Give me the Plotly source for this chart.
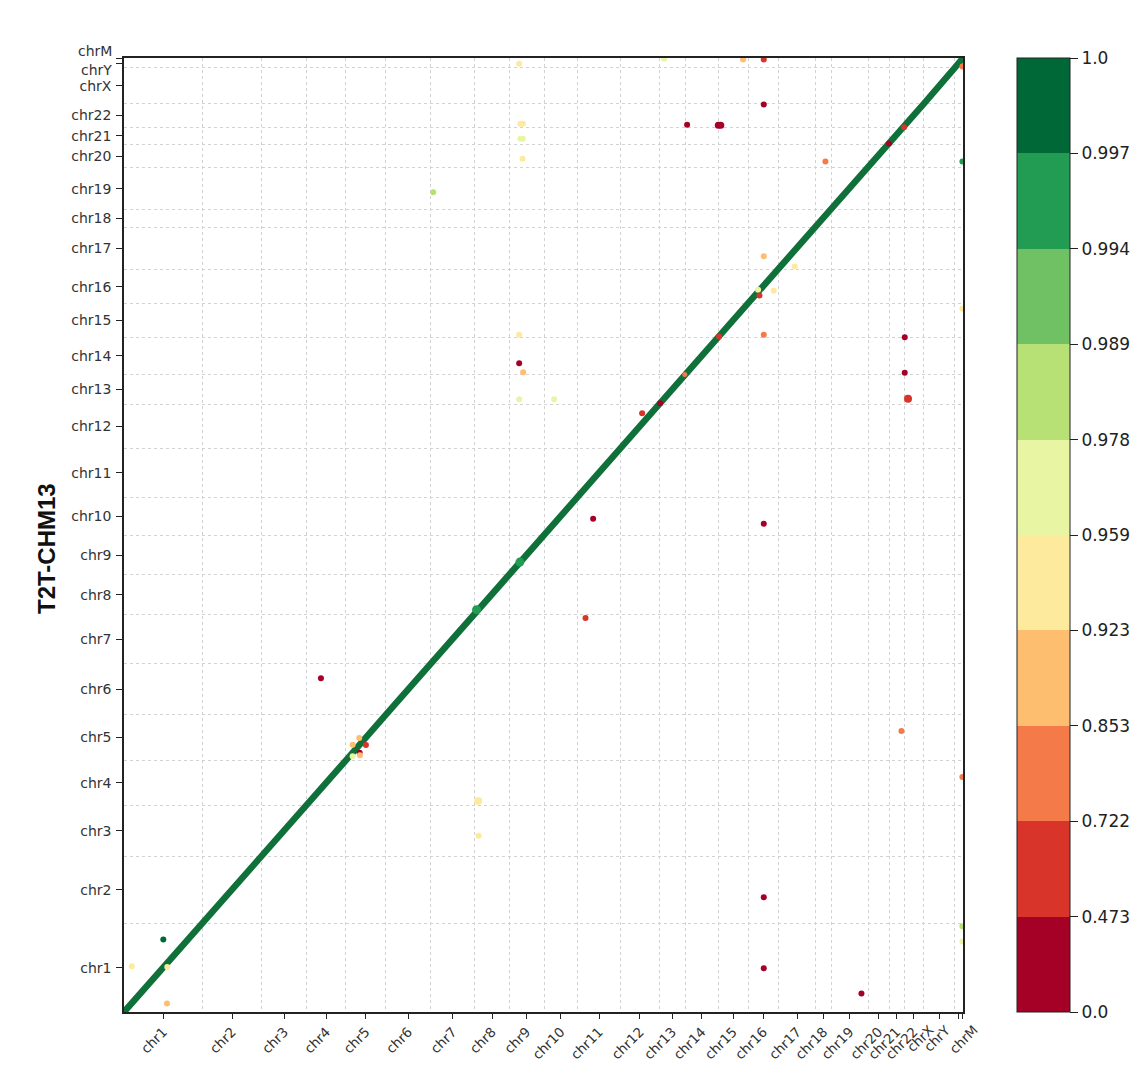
import numpy as np
import plotly.graph_objects as go

# ---------------- data ----------------
chroms = ["chr1", "chr2", "chr3", "chr4", "chr5", "chr6", "chr7", "chr8", "chr9",
          "chr10", "chr11", "chr12", "chr13", "chr14", "chr15", "chr16", "chr17",
          "chr18", "chr19", "chr20", "chr21", "chr22", "chrX", "chrY", "chrM"]

# chromosome extents along each axis (relative units)
x_sizes = [78.7, 59.0, 45.3, 39.0, 40.0, 45.0, 44.0, 34.3, 35.0, 33.4, 43.3, 38.3, 26.4,
           32.6, 30.0, 30.7, 37.0, 15.7, 36.6, 21.0, 15.0, 19.7, 31.0, 8.0, 0.3]
y_sizes = [88.4, 67.3, 51.0, 45.0, 45.7, 51.0, 49.0, 40.0, 39.3, 37.7, 49.6, 43.4, 30.3,
           37.3, 33.4, 34.3, 42.3, 17.4, 42.0, 23.3, 17.3, 23.4, 36.0, 9.3, 0.5]

# off-diagonal / highlighted hits: position on reference (x), on T2T-CHM13 (y), identity
hit_x = [39.3, 7.7, 43.3, 43.0, 197.0, 228.7, 235.3, 242.0, 235.7, 236.0, 228.7, 354.3,
         354.7, 461.7, 777.7, 838.7, 640.0, 640.0, 737.7, 838.7, 838.7, 395.3, 540.3,
         619.3, 640.0, 640.0, 396.5, 399.0, 396.5, 399.0, 398.7, 563.3, 594.5, 597.0,
         701.7, 838.7, 780.3, 765.3, 640.0, 671.0, 634.3, 635.7, 650.0, 838.7, 395.3,
         640.0, 595.3, 781.0, 395.3, 399.3, 781.0, 395.3, 430.3, 784.3, 561.0, 518.3,
         536.3, 469.3, 640.0, 838.7, 309.3, 352.7, 396.0]
hit_y = [72.4, 45.7, 45.0, 8.4, 333.7, 267.4, 274.0, 267.0, 259.4, 256.7, 255.7, 211.0,
         176.4, 394.0, 281.0, 235.0, 114.7, 43.7, 18.4, 85.7, 70.4, 948.4, 953.4,
         952.7, 952.7, 907.7, 888.4, 888.4, 873.4, 873.4, 853.4, 887.4, 887.0, 887.0,
         850.7, 850.7, 885.0, 868.7, 756.0, 745.7, 722.4, 716.7, 721.4, 703.4, 677.4,
         677.4, 675.7, 675.0, 649.0, 640.0, 639.4, 613.0, 613.0, 613.4, 637.7, 599.0,
         609.0, 493.4, 488.4, 945.7, 820.0, 402.4, 450.0]
hit_identity = [0.998, 0.94, 0.94, 0.88, 0.30, 0.89, 0.89, 0.60, 0.30, 0.89, 0.97, 0.94,
                0.94, 0.60, 0.80, 0.80, 0.30, 0.30, 0.30, 0.985, 0.97, 0.94, 0.97,
                0.89, 0.60, 0.30, 0.94, 0.94, 0.97, 0.97, 0.94, 0.30, 0.30, 0.30,
                0.80, 0.996, 0.60, 0.30, 0.89, 0.94, 0.97, 0.60, 0.94, 0.94, 0.94,
                0.80, 0.60, 0.30, 0.30, 0.89, 0.30, 0.97, 0.965, 0.60, 0.80, 0.60,
                0.30, 0.30, 0.30, 0.80, 0.985, 0.996, 0.996]
hit_size = [6, 6, 6, 6, 6, 6, 6, 6, 6, 6, 6, 8,
            6, 6, 6, 6, 6, 6, 6, 6, 6, 6, 6,
            6, 6, 6, 6, 6, 6, 6, 6, 6, 7, 7,
            6, 6, 6, 6, 6, 6, 6, 6, 6, 6, 6,
            6, 6, 6, 6, 6, 6, 6, 6, 8, 5, 6,
            6, 6, 6, 6, 6, 9, 9]

# colour classes
bounds = [0.0, 0.473, 0.722, 0.853, 0.923, 0.959, 0.978, 0.989, 0.994, 0.997, 1.0]
bound_labels = ["0.0", "0.473", "0.722", "0.853", "0.923", "0.959", "0.978", "0.989",
                "0.994", "0.997", "1.0"]
class_colors = ["#a50026", "#d93429", "#f57a49", "#fdbe6f", "#feea9d",
                "#e8f6a3", "#b7e075", "#70c064", "#229c52", "#006837"]

x_title = "Hg38"
y_title = "T2T-CHM13"

# ---------------- derived ----------------
x_edges = np.concatenate([[0], np.cumsum(x_sizes)])
y_edges = np.concatenate([[0], np.cumsum(y_sizes)])
x_mid = (x_edges[:-1] + x_edges[1:]) / 2
y_mid = (y_edges[:-1] + y_edges[1:]) / 2
X_TOT, Y_TOT = x_edges[-1], y_edges[-1]

nb = len(class_colors)
colorscale = []
for i, c in enumerate(class_colors):
    colorscale.append([i / nb, c])
    colorscale.append([(i + 1) / nb, c])

cls = np.clip(np.digitize(hit_identity, bounds[1:-1]), 0, nb - 1) + 0.5

fig = go.Figure()

# collinear diagonal (chromosome-to-chromosome correspondence)
fig.add_trace(go.Scatter(x=x_edges, y=y_edges, mode="lines",
                         line=dict(color="#10703a", width=6.5),
                         hoverinfo="skip", showlegend=False))

fig.add_trace(go.Scatter(
    x=hit_x, y=hit_y, mode="markers",
    marker=dict(size=hit_size, color=cls, colorscale=colorscale, cmin=0, cmax=nb,
                opacity=1, line=dict(width=0),
                colorbar=dict(
                    tickmode="array", tickvals=list(range(nb + 1)), ticktext=bound_labels,
                    thickness=53, len=1.0, lenmode="fraction", y=0.5, yanchor="middle",
                    x=1.064, xanchor="left", outlinewidth=1, outlinecolor="#222",
                    ticks="outside", ticklen=8, tickcolor="#222",
                    tickfont=dict(family="DejaVu Sans", size=17, color="#222"),
                    xpad=0, ypad=0)),
    showlegend=False))

crowded = ("chrX", "chrY", "chrM")
x_ticktext = [c if c not in crowded else "" for c in chroms]
y_ticktext = [c if c not in ("chrY", "chrM") else "" for c in chroms]

fig.update_xaxes(range=[0, X_TOT], tickmode="array", tickvals=x_mid, ticktext=x_ticktext,
                 tickangle=-45, ticks="outside", ticklen=5, tickcolor="#222",
                 tickfont=dict(family="DejaVu Sans", size=13.5, color="#333"),
                 showgrid=False, zeroline=False, showline=True, linecolor="#222",
                 linewidth=1.5, mirror=True,
                 minor=dict(tickmode="array", tickvals=list(x_edges), showgrid=True,
                            gridcolor="#d2d2d2", griddash="dot", gridwidth=1, ticklen=0))
fig.update_yaxes(range=[0, Y_TOT], tickmode="array", tickvals=y_mid, ticktext=y_ticktext,
                 ticks="outside", ticklen=6, tickcolor="#222",
                 tickfont=dict(family="DejaVu Sans", size=14, color="#333"),
                 showgrid=False, zeroline=False, showline=True, linecolor="#222",
                 linewidth=1.5, mirror=True, ticklabelstandoff=2,
                 minor=dict(tickmode="array", tickvals=list(y_edges), showgrid=True,
                            gridcolor="#d2d2d2", griddash="dot", gridwidth=1, ticklen=0))

lab_font = dict(family="DejaVu Sans", size=14, color="#333")
xlab_font = dict(family="DejaVu Sans", size=13.5, color="#333")
annots = [
    # crowded top chromosomes on the y axis
    dict(x=0, xref="paper", y=(y_mid[23] - 6.5) / Y_TOT, yref="paper", text="chrY",
         showarrow=False, xanchor="right", yanchor="middle", xshift=-10, font=lab_font),
    dict(x=0, xref="paper", y=(Y_TOT + 7.5) / Y_TOT, yref="paper", text="chrM",
         showarrow=False, xanchor="right", yanchor="middle", xshift=-10, font=lab_font),
]
# crowded last chromosomes on the x axis (labels nudged apart)
for idx, nudge in ((22, 1.0), (23, -2.0), (24, 21.0)):
    annots.append(dict(x=(x_mid[idx] + nudge) / X_TOT, xref="paper", y=0, yref="paper",
                       text=chroms[idx], showarrow=False, textangle=-45, xanchor="right",
                       yanchor="top", yshift=-7, font=xlab_font))
# axis titles
annots.append(dict(x=-77 / X_TOT, xref="paper", y=(Y_TOT / 2 - 14) / Y_TOT, yref="paper",
                   text="<b>%s</b>" % y_title, showarrow=False, textangle=-90,
                   xanchor="center", yanchor="middle",
                   font=dict(family="Liberation Sans", size=24, color="#111")))
annots.append(dict(x=0.5, xref="paper", y=0, yref="paper", text="<b>%s</b>" % x_title,
                   showarrow=False, xanchor="center", yanchor="top", yshift=-53,
                   font=dict(family="Liberation Sans", size=24, color="#111")))

fig.update_layout(width=1139, height=1072, margin=dict(l=116, r=183.7, t=49.5, b=68.3),
                  paper_bgcolor="white", plot_bgcolor="white", annotations=annots)

fig.write_html("out.html")
